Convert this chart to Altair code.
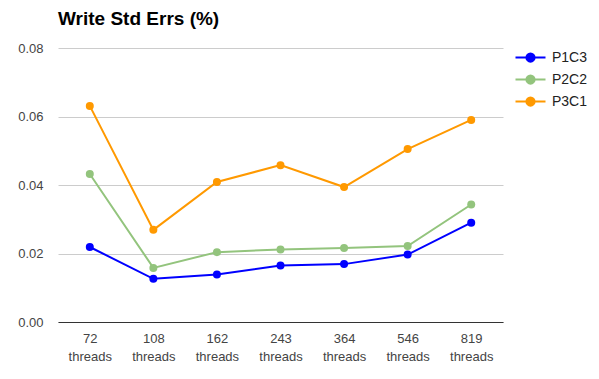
import altair as alt
import pandas as pd

categories = ["72 threads", "108 threads", "162 threads", "243 threads", "364 threads", "546 threads", "819 threads"]
series_names = ["P1C3", "P2C2", "P3C1"]
p1c3 = [0.0219, 0.0126, 0.0139, 0.0165, 0.0169, 0.0197, 0.0290]
p2c2 = [0.0432, 0.0158, 0.0204, 0.0212, 0.0216, 0.0222, 0.0343]
p3c1 = [0.0631, 0.0269, 0.0409, 0.0458, 0.0394, 0.0505, 0.0590]
colors = ["#0000ff", "#93c47d", "#ff9900"]

rows = []
for name, vals in zip(series_names, [p1c3, p2c2, p3c1]):
    for c, v in zip(categories, vals):
        rows.append({"threads": c, "series": name, "value": v})
df = pd.DataFrame(rows)

FONT = "Arial, Liberation Sans, Helvetica"
sym = "M -2 0 L 2 0 M 0.55 0 A 0.55 0.55 0 1 1 -0.55 0 A 0.55 0.55 0 1 1 0.55 0 Z"

base = alt.Chart(df).encode(
    x=alt.X("threads:N", sort=categories, title=None,
            scale=alt.Scale(paddingInner=0, paddingOuter=0),
            axis=alt.Axis(labelAngle=0, ticks=False, domainColor="#333333",
                          labelExpr="split(datum.label, ' ')", labelFontSize=13,
                          labelColor="#444444", labelFont=FONT,
                          labelPadding=10, labelLineHeight=18)),
    y=alt.Y("value:Q", title=None,
            scale=alt.Scale(domain=[0, 0.08]),
            axis=alt.Axis(values=[0, 0.02, 0.04, 0.06, 0.08], format=".2f", ticks=False,
                          domain=False, gridColor="#cccccc", labelFontSize=13,
                          labelColor="#444444", labelFont=FONT,
                          labelPadding=15)),
    color=alt.Color("series:N", sort=series_names,
                    scale=alt.Scale(domain=series_names, range=colors),
                    legend=alt.Legend(title=None, orient="none", legendX=464, legendY=1,
                                      symbolType=sym, symbolSize=225, symbolStrokeWidth=2,
                                      labelFontSize=14, labelColor="#222222",
                                      labelFont=FONT, rowPadding=5,
                                      labelOffset=13)),
)

lines = base.mark_line(strokeWidth=2)
points = base.mark_circle(size=64, opacity=1).encode(fill=alt.Fill("series:N", sort=series_names,
                    scale=alt.Scale(domain=series_names, range=colors), legend=None))

chart = (lines + points).properties(
    width=445, height=274,
    title=alt.TitleParams("Write Std Errs (%)", anchor="start", frame="group",
                          fontSize=19, font=FONT, fontWeight="bold",
                          color="#000000", offset=13),
    autosize=alt.AutoSizeParams(type="none"),
    padding={"left": 50, "top": 40, "right": 88, "bottom": 49},
).configure_view(stroke=None)

chart.save("out.html", embed_options={"renderer": "svg", "actions": False})
